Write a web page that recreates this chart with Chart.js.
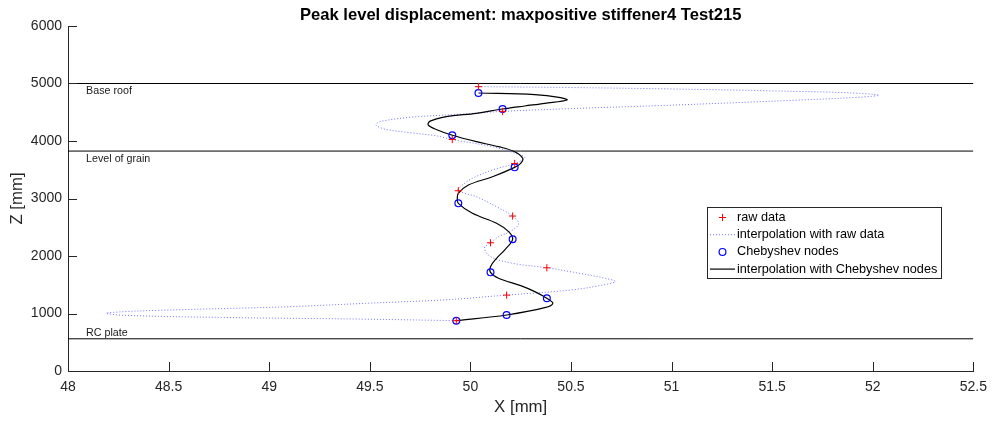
<!DOCTYPE html>
<html>
<head>
<meta charset="utf-8">
<script src="https://cdn.jsdelivr.net/npm/chart.js@4.4.1/dist/chart.umd.min.js"></script>
<style>
  html, body { margin: 0; padding: 0; background: #fff; }
  #wrap { width: 995px; height: 425px; }
</style>
</head>
<body>
<div id="wrap"><canvas id="chart"></canvas></div>
<script>
// measured peak displacement per level (X and Z in mm)
const rawX = [50.04, 50.16, 49.91, 50.22, 49.94, 50.21, 50.10, 50.38, 50.18, 49.93];
const rawZ = [4945, 4515, 4025, 3610, 3135, 2695, 2230, 1795, 1320, 875];

// Chebyshev nodes
const chebX = [50.04, 50.16, 49.91, 50.22, 49.94, 50.21, 50.10, 50.38, 50.18, 49.93];
const chebZ = [4835, 4557, 4100, 3542, 2916, 2290, 1716, 1264, 974, 875];

// polynomial through the raw data
const rawFitX = [50.04, 50.50, 51.00, 51.50, 51.88, 52.03, 51.94, 51.64, 50.98, 50.49,
  50.16, 49.94, 49.70, 49.55, 49.53, 49.58, 49.70, 49.83, 49.91, 50.11,
  50.22, 50.27, 50.22, 50.11, 50.01, 49.95, 49.94, 50.03, 50.13, 50.21,
  50.24, 50.20, 50.14, 50.10, 50.07, 50.10, 50.21, 50.38, 50.54, 50.67,
  50.72, 50.65, 50.50, 50.18, 49.86, 49.48, 49.10, 48.79, 48.45, 48.28,
  48.19, 48.28, 48.79, 49.48, 49.93];
const rawFitZ = [4945, 4930, 4905, 4872, 4838, 4797, 4763, 4713, 4621, 4562,
  4515, 4464, 4412, 4336, 4278, 4203, 4145, 4090, 4025, 3901,
  3790, 3710, 3610, 3496, 3351, 3206, 3135, 3031, 2857, 2695,
  2560, 2430, 2336, 2230, 2140, 1990, 1873, 1795, 1700, 1612,
  1555, 1490, 1409, 1320, 1235, 1177, 1118, 1088, 1055, 1032,
  1003, 968, 930, 902, 875];

// polynomial through the Chebyshev nodes
const chebFitX = [50.04, 50.32, 50.44, 50.48, 50.37, 50.27, 50.16, 50.03, 49.88, 49.80,
  49.79, 49.83, 49.91, 50.03, 50.14, 50.22, 50.26,
  50.25, 50.22, 50.11, 49.99, 49.94, 49.935, 49.94, 50.01, 50.13, 50.19,
  50.21, 50.17, 50.13, 50.10, 50.10, 50.14, 50.25, 50.32, 50.38, 50.41,
  50.37, 50.18, 49.93];
const chebFitZ = [4835, 4806, 4760, 4713, 4655, 4609, 4557, 4482, 4425, 4345,
  4280, 4200, 4100, 3988, 3901, 3814, 3699,
  3612, 3542, 3379, 3235, 3090, 3003, 2916, 2742, 2569, 2423,
  2290, 2104, 1960, 1814, 1716, 1612, 1484, 1380, 1264, 1177,
  1101, 974, 875];

// reference levels of the silo
const levelNames = ['Base roof', 'Level of grain', 'RC plate'];
const levelZ = [5000, 3825, 560];
const levelTextZ = [4870, 3685, 665];
const levelTextX = 48.09;

const xTicks = [48, 48.5, 49, 49.5, 50, 50.5, 51, 51.5, 52, 52.5];
const zTicks = [0, 1000, 2000, 3000, 4000, 5000, 6000];

const chartTitle = 'Peak level displacement: maxpositive stiffener4 Test215';

const FONT = '"Liberation Sans", Arial, Helvetica, sans-serif';
const AXIS = '#262626';

const pts = (xs, zs) => xs.map((x, i) => ({ x: x, y: zs[i] }));

const datasets = [
  {
    label: 'raw data',
    data: pts(rawX, rawZ),
    pointStyle: 'cross',
    pointRadius: 3.6,
    pointBorderColor: '#ff0000',
    pointBorderWidth: 1,
    showLine: false,
    order: 0
  },
  {
    label: 'interpolation with raw data',
    data: pts(rawFitX, rawFitZ),
    showLine: true,
    pointRadius: 0,
    borderColor: 'rgba(100, 100, 255, 0.9)',
    borderWidth: 1,
    borderDash: [1, 2],
    tension: 0.35,
    order: 3
  },
  {
    label: 'Chebyshev nodes',
    data: pts(chebX, chebZ),
    pointStyle: 'circle',
    pointRadius: 3.4,
    pointBorderColor: '#0000ff',
    pointBackgroundColor: 'rgba(0,0,0,0)',
    pointBorderWidth: 1.2,
    showLine: false,
    order: 1
  },
  {
    label: 'interpolation with Chebyshev nodes',
    data: pts(chebFitX, chebFitZ),
    showLine: true,
    pointRadius: 0,
    borderColor: '#000000',
    borderWidth: 1.2,
    tension: 0.35,
    order: 2
  }
];

levelZ.forEach((z, i) => {
  datasets.push({
    label: levelNames[i],
    data: [{ x: xTicks[0], y: z }, { x: xTicks[xTicks.length - 1], y: z }],
    showLine: true,
    pointRadius: 0,
    borderColor: '#000000',
    borderWidth: 1,
    order: 4,
    isLevel: true
  });
});

// title over the axes, level captions, inward ticks and the legend box
const decorations = {
  id: 'decorations',
  afterDatasetsDraw(chart) {
    const ctx = chart.ctx;
    const xs = chart.scales.x;
    const ys = chart.scales.y;
    const area = chart.chartArea;

    ctx.save();
    ctx.font = 'bold 16.6px ' + FONT;
    ctx.fillStyle = '#000000';
    ctx.textAlign = 'center';
    ctx.textBaseline = 'middle';
    ctx.fillText(chartTitle, (area.left + area.right) / 2, area.top - 10.5);

    ctx.font = '10.7px ' + FONT;
    ctx.fillStyle = '#1a1a1a';
    ctx.textAlign = 'left';
    levelNames.forEach((name, i) => {
      ctx.fillText(name, xs.getPixelForValue(levelTextX), ys.getPixelForValue(levelTextZ[i]));
    });

    // tick marks pointing into the plot
    ctx.strokeStyle = AXIS;
    ctx.lineWidth = 1;
    ctx.beginPath();
    xTicks.forEach(v => {
      const px = Math.round(xs.getPixelForValue(v)) + 0.5;
      ctx.moveTo(px, area.bottom);
      ctx.lineTo(px, area.bottom - 9);
    });
    zTicks.forEach(v => {
      const py = Math.round(ys.getPixelForValue(v)) + 0.5;
      ctx.moveTo(area.left, py);
      ctx.lineTo(area.left + 9, py);
    });
    ctx.stroke();

    // legend
    const lx = 707, ly = 207, lw = 234, lh = 71;
    ctx.fillStyle = '#ffffff';
    ctx.fillRect(lx, ly, lw, lh);
    ctx.strokeStyle = AXIS;
    ctx.strokeRect(lx + 0.5, ly + 0.5, lw, lh);

    ctx.font = '12.7px ' + FONT;
    ctx.textBaseline = 'middle';
    const items = chart.data.datasets.filter(d => !d.isLevel);
    items.forEach((d, i) => {
      const cy = ly + 10.5 + i * 17.2;
      const mx = lx + 15.5;
      ctx.save();
      if (d.showLine) {
        ctx.strokeStyle = d.borderColor;
        ctx.lineWidth = d.borderWidth;
        ctx.setLineDash(d.borderDash || []);
        ctx.beginPath();
        ctx.moveTo(lx + 3, cy);
        ctx.lineTo(lx + 28, cy);
        ctx.stroke();
      } else {
        ctx.strokeStyle = d.pointBorderColor;
        ctx.lineWidth = d.pointBorderWidth;
        ctx.beginPath();
        if (d.pointStyle === 'cross') {
          ctx.moveTo(mx - d.pointRadius, cy);
          ctx.lineTo(mx + d.pointRadius, cy);
          ctx.moveTo(mx, cy - d.pointRadius);
          ctx.lineTo(mx, cy + d.pointRadius);
        } else {
          ctx.arc(mx, cy, d.pointRadius, 0, Math.PI * 2);
        }
        ctx.stroke();
      }
      ctx.restore();
      ctx.fillStyle = '#000000';
      ctx.fillText(d.label, lx + 30, cy);
    });
    ctx.restore();
  }
};

new Chart(document.getElementById('chart'), {
  type: 'scatter',
  data: { datasets: datasets },
  options: {
    responsive: true,
    maintainAspectRatio: false,
    animation: false,
    layout: { padding: { left: 0, right: 19, top: 26, bottom: 0 } },
    plugins: {
      legend: { display: false },
      tooltip: { enabled: false },
      title: { display: false }
    },
    scales: {
      x: {
        type: 'linear',
        min: xTicks[0],
        max: xTicks[xTicks.length - 1],
        afterBuildTicks: s => { s.ticks = xTicks.map(v => ({ value: v })); },
        afterFit: s => { s.height = 54; },
        grid: { display: false, drawTicks: false },
        border: { display: true, color: AXIS, width: 1 },
        ticks: {
          color: AXIS,
          padding: 8,
          maxRotation: 0,
          autoSkip: false,
          font: { family: FONT, size: 14 },
          callback: v => String(v)
        },
        title: {
          display: true,
          text: 'X [mm]',
          color: AXIS,
          font: { family: FONT, size: 16.8, lineHeight: 1.2 },
          padding: { top: 0, bottom: 7.5 }
        }
      },
      y: {
        type: 'linear',
        min: zTicks[0],
        max: zTicks[zTicks.length - 1],
        afterBuildTicks: s => { s.ticks = zTicks.map(v => ({ value: v })); },
        afterFit: s => { s.width = 68; },
        grid: { display: false, drawTicks: false },
        border: { display: true, color: AXIS, width: 1 },
        ticks: {
          color: AXIS,
          padding: 6,
          autoSkip: false,
          font: { family: FONT, size: 14 },
          callback: v => String(v)
        },
        title: {
          display: true,
          text: 'Z [mm]',
          color: AXIS,
          font: { family: FONT, size: 16.8, lineHeight: 1.2 },
          padding: { top: 7, bottom: 0 }
        }
      }
    }
  },
  plugins: [decorations]
});
</script>
</body>
</html>
